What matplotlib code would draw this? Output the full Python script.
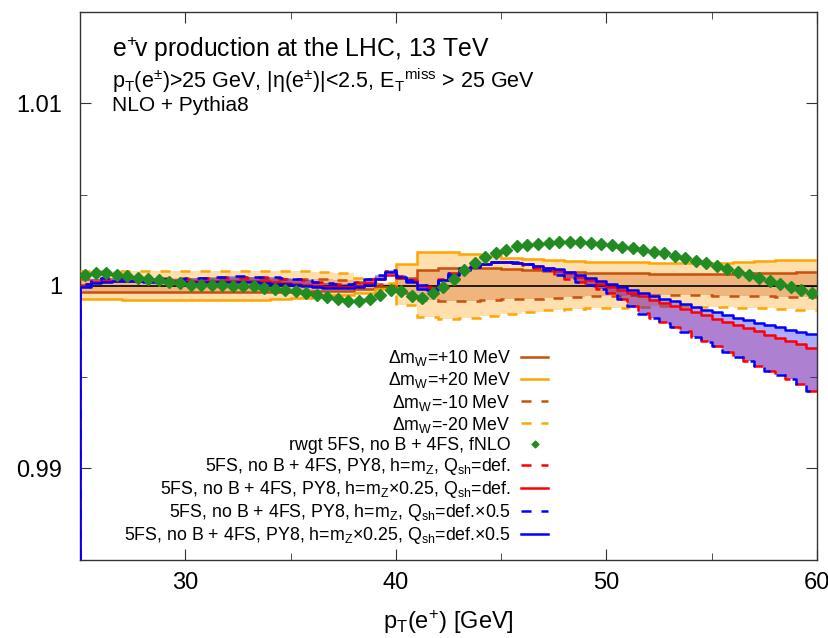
import numpy as np
import matplotlib.pyplot as plt
from matplotlib.lines import Line2D

plt.rcParams['font.family'] = ['Liberation Sans', 'DejaVu Sans']
plt.rcParams['mathtext.default'] = 'regular'

# bins: 1 GeV for the m_W shifts, 0.5 GeV for the PY8 / reweighted curves
edges_mw = np.arange(25.0, 60.5, 1.0)
edges_py = np.arange(25.0, 60.25, 0.5)

# ratios to the central prediction, given as deviation in units of 1e-3
mw_p20 = [-0.70, -0.72, -0.75, -0.75, -0.75, -0.75, -0.75, -0.75, -0.75, -0.72,
          -0.68, -0.62, -0.52, -0.38, -0.15, 1.20, 1.88, 1.85, 1.75, 1.62,
          1.52, 1.45, 1.40, 1.35, 1.33, 1.32, 1.30, 1.27, 1.25, 1.25,
          1.27, 1.30, 1.35, 1.43, 1.43]
mw_m20 = [0.80, 0.82, 0.82, 0.82, 0.82, 0.82, 0.82, 0.82, 0.82, 0.80,
          0.80, 0.78, 0.70, 0.42, 0.15, -1.05, -1.70, -1.80, -1.75, -1.65,
          -1.55, -1.45, -1.35, -1.28, -1.23, -1.20, -1.15, -1.10, -1.12, -1.15,
          -1.18, -1.20, -1.22, -1.28, -1.32]
mw_p10 = [-0.33, -0.35, -0.35, -0.35, -0.35, -0.35, -0.35, -0.35, -0.35, -0.35,
          -0.33, -0.30, -0.26, -0.18, -0.08, 0.45, 0.85, 0.95, 0.97, 0.95,
          0.90, 0.85, 0.80, 0.76, 0.72, 0.70, 0.68, 0.66, 0.64, 0.63,
          0.65, 0.68, 0.70, 0.73, 0.74]
mw_m10 = [0.40, 0.42, 0.42, 0.42, 0.42, 0.42, 0.42, 0.42, 0.42, 0.40,
          0.40, 0.38, 0.34, 0.22, 0.08, -0.40, -0.78, -0.85, -0.83, -0.78,
          -0.74, -0.70, -0.66, -0.62, -0.58, -0.55, -0.53, -0.52, -0.52, -0.53,
          -0.54, -0.55, -0.57, -0.60, -0.62]

rwgt = [0.61, 0.72, 0.72, 0.61, 0.54, 0.43, 0.36, 0.30, 0.22, 0.16,
        0.07, 0.07, 0.03, 0.03, 0.00, -0.02, -0.02, -0.11, -0.18, -0.24,
        -0.29, -0.38, -0.51, -0.62, -0.74, -0.83, -0.83, -0.73, -0.52, -0.22,
        -0.29, -0.54, -0.69, -0.42, -0.05, 0.40, 0.85, 1.26, 1.57, 1.80,
        1.98, 2.17, 2.25, 2.31, 2.35, 2.38, 2.38, 2.38, 2.35, 2.29,
        2.24, 2.15, 2.06, 1.97, 1.88, 1.79, 1.66, 1.52, 1.35, 1.23,
        1.08, 0.94, 0.78, 0.61, 0.43, 0.29, 0.11, -0.05, -0.24, -0.42]

# h=mZ, Qsh=def.
py_hz = [0.10, 0.35, 0.40, 0.40, 0.40, 0.38, 0.35, 0.35, 0.35, 0.38,
         0.40, 0.42, 0.45, 0.48, 0.50, 0.50, 0.50, 0.48, 0.45, 0.40,
         0.35, 0.30, 0.22, 0.15, 0.10, 0.12, 0.20, 0.35, 0.55, 0.80,
         0.55, 0.30, 0.05, -0.05, 0.35, 0.70, 0.95, 1.10, 1.20, 1.28,
         1.30, 1.25, 1.15, 1.00, 0.85, 0.60, 0.40, 0.20, 0.00, -0.15,
         -0.40, -0.70, -1.10, -1.50, -1.75, -2.00, -2.25, -2.50, -2.80, -3.05,
         -3.30, -3.60, -3.85, -4.10, -4.40, -4.65, -4.85, -5.10, -5.40, -5.75]
# h=mZx0.25, Qsh=def.
py_hq = [0.00, 0.20, 0.25, 0.28, 0.28, 0.28, 0.27, 0.26, 0.25, 0.25,
         0.25, 0.26, 0.27, 0.28, 0.28, 0.28, 0.27, 0.25, 0.20, 0.15,
         0.10, 0.05, 0.00, -0.05, -0.05, -0.05, 0.00, 0.15, 0.40, 0.60,
         0.45, 0.25, 0.00, -0.10, 0.30, 0.60, 0.85, 1.05, 1.20, 1.28,
         1.30, 1.27, 1.20, 1.10, 0.98, 0.85, 0.70, 0.50, 0.30, 0.12,
         -0.05, -0.22, -0.40, -0.58, -0.75, -0.92, -1.10, -1.28, -1.45, -1.62,
         -1.80, -1.97, -2.15, -2.32, -2.50, -2.68, -2.85, -3.02, -3.20, -3.42]
# h=mZ, Qsh=def.x0.5
py_hz_sh = [0.12, 0.37, 0.42, 0.42, 0.41, 0.39, 0.37, 0.36, 0.37, 0.40,
            0.42, 0.44, 0.47, 0.50, 0.52, 0.52, 0.51, 0.49, 0.46, 0.42,
            0.36, 0.30, 0.22, 0.14, 0.08, 0.10, 0.18, 0.35, 0.58, 0.85,
            0.60, 0.32, 0.02, -0.10, 0.30, 0.68, 0.95, 1.12, 1.22, 1.30,
            1.32, 1.28, 1.18, 1.02, 0.86, 0.62, 0.42, 0.22, 0.02, -0.15,
            -0.42, -0.72, -1.12, -1.52, -1.78, -2.02, -2.28, -2.52, -2.82, -3.08,
            -3.32, -3.62, -3.88, -4.12, -4.42, -4.68, -4.88, -5.12, -5.42, -5.78]
# h=mZx0.25, Qsh=def.x0.5
py_hq_sh = [-0.05, 0.15, 0.22, 0.25, 0.25, 0.25, 0.23, 0.22, 0.20, 0.20,
            0.20, 0.20, 0.20, 0.22, 0.22, 0.22, 0.20, 0.18, 0.12, 0.08,
            0.03, 0.00, -0.05, -0.10, -0.12, -0.12, -0.08, 0.05, 0.35, 0.75,
            0.50, 0.20, -0.20, -0.25, 0.30, 0.57, 0.85, 1.05, 1.20, 1.28,
            1.30, 1.27, 1.20, 1.10, 1.00, 0.90, 0.78, 0.62, 0.45, 0.28,
            0.10, -0.08, -0.25, -0.40, -0.55, -0.72, -0.85, -1.00, -1.15, -1.30,
            -1.45, -1.60, -1.75, -1.88, -2.02, -2.15, -2.28, -2.42, -2.55, -2.65]

labels = [r'$\Delta$m$_W$=+10 MeV', r'$\Delta$m$_W$=+20 MeV',
          r'$\Delta$m$_W$=-10 MeV', r'$\Delta$m$_W$=-20 MeV',
          'rwgt 5FS, no B + 4FS, fNLO',
          '5FS, no B + 4FS, PY8, h=m$_Z$, Q$_{sh}$=def.',
          '5FS, no B + 4FS, PY8, h=m$_Z$×0.25, Q$_{sh}$=def.',
          '5FS, no B + 4FS, PY8, h=m$_Z$, Q$_{sh}$=def.×0.5',
          '5FS, no B + 4FS, PY8, h=m$_Z$×0.25, Q$_{sh}$=def.×0.5']
xticks = [30, 40, 50, 60]
yticks = [0.99, 1.0, 1.01]
yticklabels = ['0.99', '1', '1.01']


def ratio(dev):
    return 1.0 + np.asarray(dev) / 1000.0


def step_from_zero(ax, edges, dev, **kw):
    # gnuplot-like histeps: starts from 0 at the first edge
    xs = np.r_[edges[0], edges]
    ys = np.r_[0.0, ratio(dev), ratio(dev)[-1]]
    return ax.plot(xs, ys, drawstyle='steps-post', **kw)[0]


ORANGE = '#ffa500'
DKORANGE = '#c8500a'
GREEN = '#228b22'
DASH = (0, (4, 4))

fig = plt.figure(figsize=(8.29, 6.38), dpi=100)
ax = fig.add_axes([0.0965, 0.123, 0.889, 0.858])

c_mw = edges_mw[:-1] + 0.5
c_py = edges_py[:-1] + 0.25

# m_W bands
ax.bar(c_mw, ratio(mw_p20) - ratio(mw_m20), bottom=ratio(mw_m20), width=1.0,
       color='#ffdfae', linewidth=0, zorder=1)
ax.bar(c_mw, ratio(mw_p10) - ratio(mw_m10), bottom=ratio(mw_m10), width=1.0,
       color='#f0b57c', linewidth=0, zorder=1.1)
ax.axhline(1.0, color='black', lw=1.2, zorder=2)

ax.stairs(ratio(mw_p10), edges_mw, color=DKORANGE, lw=1.8, baseline=None, zorder=3)
ax.stairs(ratio(mw_p20), edges_mw, color=ORANGE, lw=1.8, baseline=None, zorder=3)
ax.stairs(ratio(mw_m10), edges_mw, color=DKORANGE, lw=1.8, ls=DASH, baseline=None, zorder=3)
ax.stairs(ratio(mw_m20), edges_mw, color=ORANGE, lw=1.8, ls=DASH, baseline=None, zorder=3)

# PY8 bands
ax.bar(c_py, ratio(py_hq) - ratio(py_hz), bottom=ratio(py_hz), width=0.5,
       color='red', alpha=0.26, linewidth=0, zorder=4)
ax.bar(c_py, ratio(py_hq_sh) - ratio(py_hz_sh), bottom=ratio(py_hz_sh), width=0.5,
       color='blue', alpha=0.32, linewidth=0, zorder=4)

step_from_zero(ax, edges_py, py_hz, color='red', lw=1.8, ls=DASH, zorder=5)
step_from_zero(ax, edges_py, py_hq, color='red', lw=1.8, zorder=5)
step_from_zero(ax, edges_py, py_hz_sh, color='blue', lw=1.8, ls=DASH, zorder=5)
step_from_zero(ax, edges_py, py_hq_sh, color='blue', lw=1.8, zorder=5)

ax.plot(c_py, ratio(rwgt), 'D', color=GREEN, ms=6.2, ls='none', zorder=6)

handles = [Line2D([], [], color=DKORANGE, lw=1.8),
           Line2D([], [], color=ORANGE, lw=1.8),
           Line2D([], [], color=DKORANGE, lw=1.8, ls=DASH),
           Line2D([], [], color=ORANGE, lw=1.8, ls=DASH),
           Line2D([], [], color=GREEN, marker='D', ms=3.5, ls='none'),
           Line2D([], [], color='red', lw=1.8, ls=DASH),
           Line2D([], [], color='red', lw=1.8),
           Line2D([], [], color='blue', lw=1.8, ls=DASH),
           Line2D([], [], color='blue', lw=1.8)]
ax.legend(handles, labels, loc='lower right', bbox_to_anchor=(0.635, 0.024),
          frameon=False, markerfirst=False, fontsize=12.8, handlelength=1.5,
          handletextpad=0.6, labelspacing=0.12, borderpad=0, borderaxespad=0)

ax.set_xlim(25, 60)
ax.set_ylim(0.985, 1.015)
ax.set_xticks(xticks)
ax.set_xticks([35, 45, 55], minor=True)
ax.set_yticks(yticks)
ax.set_yticklabels(yticklabels)
ax.set_yticks([0.995, 1.005], minor=True)
ax.tick_params(which='both', direction='in', top=True, right=True,
               labelsize=17, color='#333333')
ax.tick_params(which='major', length=8)
ax.tick_params(which='minor', length=5)
ax.tick_params(axis='x', pad=9)
ax.tick_params(axis='y', pad=13)
for s in ax.spines.values():
    s.set_color('#333333')
    s.set_linewidth(1.0)

ax.set_xlabel(r'p$_T$(e$^{+}$) [GeV]', fontsize=17, labelpad=10)

ax.text(0.044, 0.918, r'e$^{+}\hspace{-0.1}$v production at the LHC, 13 TeV',
        transform=ax.transAxes, fontsize=17.8, va='baseline')
ax.text(0.044, 0.862,
        r'p$_T$(e$^{\pm}$)>25 GeV, |$\eta$(e$^{\pm}$)|<2.5, E$_T$$^{miss}$ > 25 GeV',
        transform=ax.transAxes, fontsize=15.5, va='baseline')
ax.text(0.044, 0.82, 'NLO + Pythia8', transform=ax.transAxes, fontsize=15, va='baseline')

fig.savefig('out.png', dpi=100)
